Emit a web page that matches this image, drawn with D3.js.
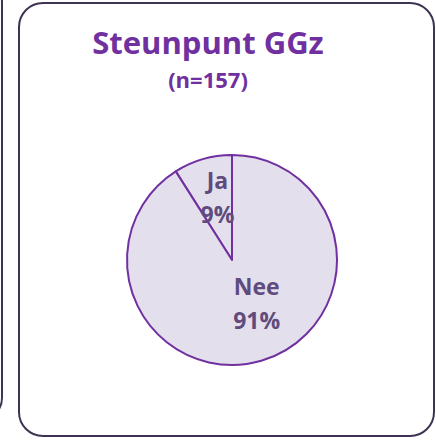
<!DOCTYPE html>
<html>
<head>
<meta charset="utf-8">
<script src="https://cdn.jsdelivr.net/npm/d3@7"></script>
<style>
  body { margin: 0; background: #fff; }
  text { font-family: "Open Sans", "Liberation Sans", sans-serif; font-weight: bold; }
</style>
</head>
<body>
<div id="chart"></div>
<script>
// data
const categories = ['Ja', 'Nee'];
const values = [9, 91];
const title = 'Steunpunt GGz';
const subtitle = '(n=157)';

const WIDTH = 436;
const HEIGHT = 440;

const svg = d3.select('#chart')
  .append('svg')
  .attr('width', WIDTH)
  .attr('height', HEIGHT);

// neighbouring panel edge (cut off on the left)
svg.append('rect')
  .attr('x', -300).attr('y', -20)
  .attr('width', 302).attr('height', 440)
  .attr('rx', 22)
  .attr('fill', 'none')
  .attr('stroke', '#3f3354')
  .attr('stroke-width', 2);

// panel
svg.append('rect')
  .attr('x', 19).attr('y', 3)
  .attr('width', 415).attr('height', 433)
  .attr('rx', 24)
  .attr('fill', '#fff')
  .attr('stroke', '#3f3354')
  .attr('stroke-width', 2);

svg.append('text')
  .attr('x', 208).attr('y', 54)
  .attr('text-anchor', 'middle')
  .attr('font-size', 31)
  .attr('fill', '#7030a0')
  .text(title);

svg.append('text')
  .attr('x', 208).attr('y', 88)
  .attr('text-anchor', 'middle')
  .attr('font-size', 22)
  .attr('fill', '#7030a0')
  .text(subtitle);

// pie
const cx = 232, cy = 260, r = 105;
const total = d3.sum(values);
const start = -2 * Math.PI * values[0] / total;

const pie = d3.pie()
  .sort(null)
  .startAngle(start)
  .endAngle(start + 2 * Math.PI);

const arcs = pie(values);
const arc = d3.arc().innerRadius(0).outerRadius(r);

const g = svg.append('g').attr('transform', `translate(${cx},${cy})`);

g.selectAll('path')
  .data(arcs)
  .join('path')
  .attr('d', arc)
  .attr('fill', '#e4dfec')
  .attr('stroke', '#7030a0')
  .attr('stroke-width', 2)
  .attr('stroke-linejoin', 'round');

// label positions (label radius per slice)
const labelR = [0.6, 0.4];
const labelArc = (d, i) => d3.arc().innerRadius(r * labelR[i]).outerRadius(r * labelR[i]).centroid(d);
const labelOffset = [[3, -8], [13, -2]];

const labels = g.selectAll('g.label')
  .data(arcs)
  .join('g')
  .attr('class', 'label')
  .attr('transform', (d, i) => {
    const c = labelArc(d, i);
    return `translate(${c[0] + labelOffset[i][0]},${c[1] + labelOffset[i][1]})`;
  });

labels.append('text')
  .attr('text-anchor', 'middle')
  .attr('y', -3)
  .attr('font-size', 23)
  .attr('fill', '#5f4b7d')
  .text((d, i) => categories[i]);

labels.append('text')
  .attr('text-anchor', 'middle')
  .attr('y', 31)
  .attr('font-size', 23)
  .attr('fill', '#5f4b7d')
  .text((d) => Math.round(d.data / total * 100) + '%');
</script>
</body>
</html>
